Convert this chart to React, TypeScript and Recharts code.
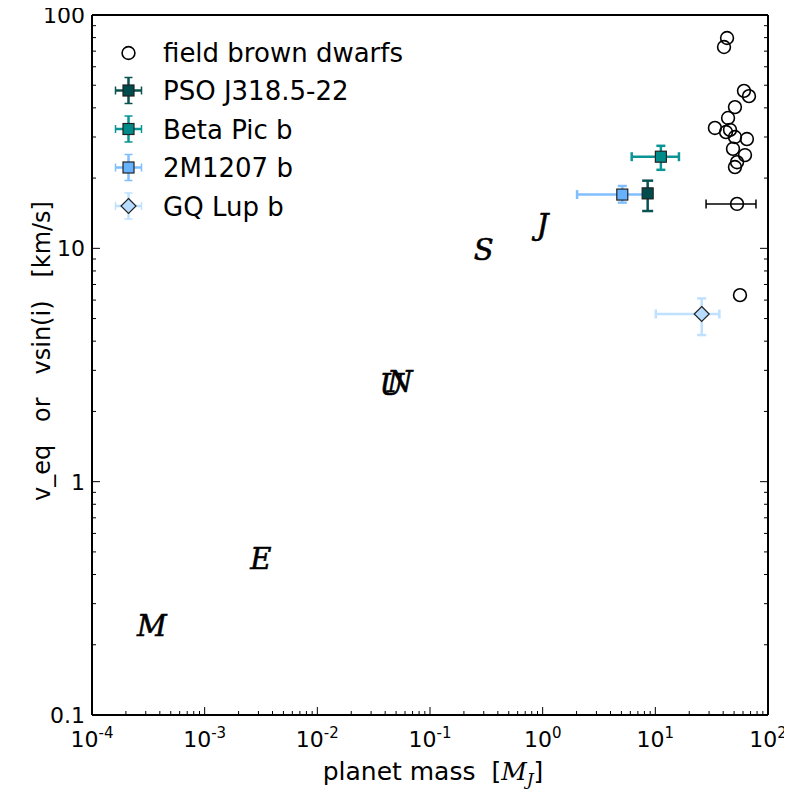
import React from 'react';
import { ScatterChart, Scatter, XAxis, YAxis, ErrorBar, Legend, Label } from 'recharts';

// ---------- tick definitions ----------
const xMajorTicks = [1e-4, 1e-3, 1e-2, 1e-1, 1, 10, 100];
const xTickExponents = ['-4', '-3', '-2', '-1', '0', '1', '2'];
const yMajorTicks = [0.1, 1, 10, 100];
const yTickLabels = ['0.1', '1', '10', '100'];
const minorMultipliers = [2, 3, 4, 5, 6, 7, 8, 9];

// ---------- field brown dwarfs ----------
const fieldMass = [43.3, 40.7, 61.2, 67.8, 50.9, 44.2, 33.8, 42.4, 46.0, 50.9, 65.0, 48.9, 62.5, 53.1, 50.9, 56.4];
const fieldVsini = [79.7, 72.9, 47.3, 44.9, 40.3, 36.2, 32.8, 31.5, 32.2, 30.0, 29.4, 26.7, 25.1, 23.4, 22.3, 6.3];
// field dwarf with a mass error bar
const fieldErrMass = [53.1];
const fieldErrVsini = [15.5];
const fieldErrMassLow = [28.2];
const fieldErrMassHigh = [78.2];

// ---------- solar system planets ----------
const planetNames = ['M', 'E', 'U', 'N', 'S', 'J'];
const planetMass = [3.4e-4, 3.15e-3, 0.0457, 0.054, 0.299, 1.0];
const planetVeq = [0.24, 0.465, 2.59, 2.68, 9.87, 12.6];

// ---------- directly imaged companions ----------
const psoMass = [8.55];
const psoV = [17.2];
const psoMassLow = [8.05];
const psoMassHigh = [9.05];
const psoVLow = [14.45];
const psoVHigh = [19.5];

const betaMass = [11.2];
const betaV = [24.7];
const betaMassLow = [6.17];
const betaMassHigh = [16.2];
const betaVLow = [21.7];
const betaVHigh = [27.5];

const m1207Mass = [5.09];
const m1207V = [17.0];
const m1207MassLow = [2.02];
const m1207MassHigh = [8.0];
const m1207VLow = [15.7];
const m1207VHigh = [18.5];

const gqMass = [25.8];
const gqV = [5.23];
const gqMassLow = [10.1];
const gqMassHigh = [37.0];
const gqVLow = [4.25];
const gqVHigh = [6.1];

const legendNames = ['field brown dwarfs', 'PSO J318.5-22', 'Beta Pic b', '2M1207 b', 'GQ Lup b'];

// ---------- derived tables ----------
const buildTicks = (majors: number[]) =>
  majors.slice(0, -1).flatMap((d) => [d, ...minorMultipliers.map((m) => m * d)]).concat([majors[majors.length - 1]]);
const xAllTicks = buildTicks(xMajorTicks);
const yAllTicks = buildTicks(yMajorTicks);

const majorIndex = (v: number, majors: number[]) => majors.findIndex((m) => Math.abs(v / m - 1) < 1e-6);

const withErr = (xs: number[], ys: number[], xl?: number[], xh?: number[], yl?: number[], yh?: number[]) =>
  xs.map((x, i) => ({
    x,
    y: ys[i],
    ex: xl && xh ? [x - xl[i], xh[i] - x] : [0, 0],
    ey: yl && yh ? [ys[i] - yl[i], yh[i] - ys[i]] : [0, 0],
  }));

const fieldData = fieldMass.map((x, i) => ({ x, y: fieldVsini[i] }));
const fieldErrData = withErr(fieldErrMass, fieldErrVsini, fieldErrMassLow, fieldErrMassHigh);
const planetData = planetMass.map((x, i) => ({ x, y: planetVeq[i], name: planetNames[i] }));
const psoData = withErr(psoMass, psoV, psoMassLow, psoMassHigh, psoVLow, psoVHigh);
const betaData = withErr(betaMass, betaV, betaMassLow, betaMassHigh, betaVLow, betaVHigh);
const m1207Data = withErr(m1207Mass, m1207V, m1207MassLow, m1207MassHigh, m1207VLow, m1207VHigh);
const gqData = withErr(gqMass, gqV, gqMassLow, gqMassHigh, gqVLow, gqVHigh);

// ---------- styles ----------
const FONT = 'DejaVu Sans, Verdana, sans-serif';
const C_PSO = '#004c4c';
const C_PSO_BAR = '#0b5252';
const C_BETA = '#008b8b';
const C_BETA_BAR = '#0a9494';
const C_2M = '#66b2ff';
const C_2M_BAR = '#80bfff';
const C_GQ = '#b8dcff';
const C_GQ_BAR = '#bfe0ff';

// ---------- ticks ----------
const BottomTick = (props: any) => {
  const { x, y, payload } = props;
  const idx = majorIndex(payload.value, xMajorTicks);
  const major = idx >= 0;
  return (
    <g>
      <line x1={x} x2={x} y1={y} y2={y - (major ? 8 : 4)} stroke="#000" strokeWidth={1} />
      {major && (
        <text x={x} y={y + 32} textAnchor="middle" fontFamily={FONT} fontSize={22} fill="#000">
          10
          <tspan fontSize={15} dy={-9}>
            {xTickExponents[idx]}
          </tspan>
        </text>
      )}
    </g>
  );
};

const TopTick = (props: any) => {
  const { x, y, payload } = props;
  const major = majorIndex(payload.value, xMajorTicks) >= 0;
  return <line x1={x} x2={x} y1={y} y2={y + (major ? 8 : 4)} stroke="#000" strokeWidth={1} />;
};

const LeftTick = (props: any) => {
  const { x, y, payload } = props;
  const idx = majorIndex(payload.value, yMajorTicks);
  const major = idx >= 0;
  return (
    <g>
      <line x1={x} x2={x + (major ? 8 : 4)} y1={y} y2={y} stroke="#000" strokeWidth={1} />
      {major && (
        <text x={x - 7} y={y + 8} textAnchor="end" fontFamily={FONT} fontSize={22} fill="#000">
          {yTickLabels[idx]}
        </text>
      )}
    </g>
  );
};

const RightTick = (props: any) => {
  const { x, y, payload } = props;
  const major = majorIndex(payload.value, yMajorTicks) >= 0;
  return <line x1={x} x2={x - (major ? 8 : 4)} y1={y} y2={y} stroke="#000" strokeWidth={1} />;
};

// ---------- shapes ----------
const openCircle = (p: any) => (
  <circle cx={p.cx} cy={p.cy} r={6.4} fill="none" stroke="#000" strokeWidth={1.6} />
);
const squareShape = (fill: string) => (p: any) => (
  <rect x={p.cx - 5.5} y={p.cy - 5.5} width={11} height={11} fill={fill} stroke="#222" strokeWidth={1.2} />
);
const diamondShape = (fill: string) => (p: any) => (
  <polygon
    points={`${p.cx},${p.cy - 7.5} ${p.cx + 7.5},${p.cy} ${p.cx},${p.cy + 7.5} ${p.cx - 7.5},${p.cy}`}
    fill={fill}
    stroke="#222"
    strokeWidth={1.2}
  />
);
const planetShape = (p: any) => (
  <text
    x={p.cx}
    y={p.cy}
    textAnchor="middle"
    dominantBaseline="central"
    fontFamily="DejaVu Serif, serif"
    fontStyle="italic"
    fontSize={29}
    fill="#000"
    stroke="#000"
    strokeWidth={0.6}
  >
    {p.payload?.name}
  </text>
);

// ---------- legend ----------
const legendStyles = [
  { kind: 'circle', fill: 'none', bar: '' },
  { kind: 'square', fill: C_PSO, bar: C_PSO_BAR },
  { kind: 'square', fill: C_BETA, bar: C_BETA_BAR },
  { kind: 'square', fill: C_2M, bar: C_2M_BAR },
  { kind: 'diamond', fill: C_GQ, bar: C_GQ_BAR },
];

const renderLegend = () => {
  const mx = 128.5;
  const tx = 163;
  return (
    <svg width={440} height={240} style={{ position: 'absolute', left: 0, top: 0, overflow: 'visible' }}>
      {legendNames.map((name, i) => {
        const st = legendStyles[i];
        const baseY = 61.5 + i * 38.5;
        const cy = baseY - 9.5;
        return (
          <g key={name}>
            {st.kind !== 'circle' && (
              <g stroke={st.bar} strokeWidth={2.5}>
                <line x1={mx - 13} x2={mx + 13} y1={cy} y2={cy} />
                <line x1={mx} x2={mx} y1={cy - 13} y2={cy + 13} />
                <line x1={mx - 13} x2={mx - 13} y1={cy - 4} y2={cy + 4} strokeWidth={1.5} />
                <line x1={mx + 13} x2={mx + 13} y1={cy - 4} y2={cy + 4} strokeWidth={1.5} />
                <line x1={mx - 4} x2={mx + 4} y1={cy - 13} y2={cy - 13} strokeWidth={1.5} />
                <line x1={mx - 4} x2={mx + 4} y1={cy + 13} y2={cy + 13} strokeWidth={1.5} />
              </g>
            )}
            {st.kind === 'circle' && openCircle({ cx: mx, cy: cy + 1 })}
            {st.kind === 'square' && squareShape(st.fill)({ cx: mx, cy })}
            {st.kind === 'diamond' && diamondShape(st.fill)({ cx: mx, cy })}
            <text x={tx} y={baseY} fontFamily={FONT} fontSize={26} fill="#000">
              {name}
            </text>
          </g>
        );
      })}
    </svg>
  );
};

const XLabel = (p: any) => {
  const vb = p.viewBox;
  return (
    <text
      x={vb.x + vb.width / 2 + 3}
      y={vb.y + 65}
      textAnchor="middle"
      fontFamily={FONT}
      fontSize={25}
      fill="#000"
      xmlSpace="preserve"
      style={{ whiteSpace: 'pre' }}
    >
      {'planet mass  ['}
      <tspan fontFamily="DejaVu Serif, serif" fontStyle="italic">M</tspan>
      <tspan fontFamily="DejaVu Serif, serif" fontStyle="italic" fontSize={17} dy={5}>J</tspan>
      <tspan dy={-5}>]</tspan>
    </text>
  );
};

const YLabel = (p: any) => {
  const vb = p.viewBox;
  const cx = vb.x - 49;
  const cy = 351;
  return (
    <text
      x={cx}
      y={cy}
      transform={`rotate(-90 ${cx} ${cy})`}
      textAnchor="middle"
      dominantBaseline="central"
      fontFamily={FONT}
      fontSize={24}
      fill="#000"
      xmlSpace="preserve"
      style={{ whiteSpace: 'pre' }}
    >
      {'v_eq   or   vsin(i)   [km/s]'}
    </text>
  );
};

const axisLine = { stroke: '#000', strokeWidth: 2 };

export default function App() {
  return (
    <div style={{ position: 'relative', width: 792, height: 790, marginTop: -8, marginLeft: -8, background: '#fff' }}>
      <ScatterChart width={792} height={790} margin={{ top: 14, right: 23, bottom: 74, left: 91 }}>
        <XAxis
          xAxisId="b"
          dataKey="x"
          type="number"
          scale="log"
          domain={[1e-4, 100]}
          allowDataOverflow
          ticks={xAllTicks}
          interval={0}
          tickSize={0}
          tickMargin={0}
          tickLine={false}
          tick={<BottomTick />}
          axisLine={axisLine}
          height={1}
          orientation="bottom"
        >
          <Label content={<XLabel />} />
        </XAxis>
        <XAxis
          xAxisId="t"
          type="number"
          scale="log"
          domain={[1e-4, 100]}
          allowDataOverflow
          ticks={xAllTicks}
          interval={0}
          tickSize={0}
          tickMargin={0}
          tickLine={false}
          tick={<TopTick />}
          axisLine={axisLine}
          height={1}
          orientation="top"
        />
        <YAxis
          yAxisId="l"
          dataKey="y"
          type="number"
          scale="log"
          domain={[0.1, 100]}
          allowDataOverflow
          ticks={yAllTicks}
          interval={0}
          tickSize={0}
          tickMargin={0}
          tickLine={false}
          tick={<LeftTick />}
          axisLine={axisLine}
          width={1}
          orientation="left"
        >
          <Label content={<YLabel />} />
        </YAxis>
        <YAxis
          yAxisId="r"
          type="number"
          scale="log"
          domain={[0.1, 100]}
          allowDataOverflow
          ticks={yAllTicks}
          interval={0}
          tickSize={0}
          tickMargin={0}
          tickLine={false}
          tick={<RightTick />}
          axisLine={axisLine}
          width={1}
          orientation="right"
        />

        <Scatter name="field brown dwarfs" data={fieldData} xAxisId="b" yAxisId="l" shape={openCircle} isAnimationActive={false} />
        <Scatter name="field err" data={fieldErrData} xAxisId="b" yAxisId="l" shape={openCircle} isAnimationActive={false}>
          <ErrorBar dataKey="ex" direction="x" width={4.5} stroke="#000" strokeWidth={1.5} />
        </Scatter>
        <Scatter name="planets" data={planetData} xAxisId="b" yAxisId="l" shape={planetShape} isAnimationActive={false} />
        <Scatter name="2M1207 b" data={m1207Data} xAxisId="b" yAxisId="l" shape={squareShape(C_2M)} isAnimationActive={false}>
          <ErrorBar dataKey="ex" direction="x" width={4.5} stroke={C_2M_BAR} strokeWidth={2.5} />
          <ErrorBar dataKey="ey" direction="y" width={4.5} stroke={C_2M_BAR} strokeWidth={2.5} />
        </Scatter>
        <Scatter name="GQ Lup b" data={gqData} xAxisId="b" yAxisId="l" shape={diamondShape(C_GQ)} isAnimationActive={false}>
          <ErrorBar dataKey="ex" direction="x" width={4.5} stroke={C_GQ_BAR} strokeWidth={2.5} />
          <ErrorBar dataKey="ey" direction="y" width={4.5} stroke={C_GQ_BAR} strokeWidth={2.5} />
        </Scatter>
        <Scatter name="Beta Pic b" data={betaData} xAxisId="b" yAxisId="l" shape={squareShape(C_BETA)} isAnimationActive={false}>
          <ErrorBar dataKey="ex" direction="x" width={4.5} stroke={C_BETA_BAR} strokeWidth={2.5} />
          <ErrorBar dataKey="ey" direction="y" width={4.5} stroke={C_BETA_BAR} strokeWidth={2.5} />
        </Scatter>
        <Scatter name="PSO J318.5-22" data={psoData} xAxisId="b" yAxisId="l" shape={squareShape(C_PSO)} isAnimationActive={false}>
          <ErrorBar dataKey="ex" direction="x" width={5.5} stroke={C_PSO_BAR} strokeWidth={2.5} />
          <ErrorBar dataKey="ey" direction="y" width={5.5} stroke={C_PSO_BAR} strokeWidth={2.5} />
        </Scatter>

        <Legend
          layout="vertical"
          align="center"
          verticalAlign="middle"
          content={renderLegend}
          wrapperStyle={{ position: 'absolute', left: 0, top: 0, width: 440, height: 240 }}
        />
      </ScatterChart>
    </div>
  );
}
